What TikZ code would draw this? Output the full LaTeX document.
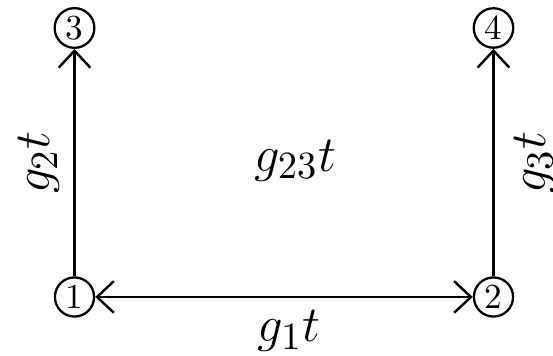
\documentclass[tikz,border=0pt]{standalone}
\usepackage{tikz}
\usetikzlibrary{positioning,arrows.meta,calc}
\tikzset{
  ratetip/.tip={Straight Barb[length=4.8pt,width=9pt,line width=0.7pt]},
  statenode/.style={
    draw,
    circle,
    line width=0.65pt,
    font=\normalsize,
    inner sep=1pt,
    minimum size=3.9mm
  },
  ratearrow/.style={
    line width=0.65pt,
    -ratetip
  },
  ratelabel/.style={
    font=\fontsize{15.8}{19}\selectfont,
    inner sep=2pt
  }
}

\begin{document}
\begin{tikzpicture}[
    on grid,
    node distance=2.69cm and 4.19cm
    ]
    \useasboundingbox (-0.745,-0.59) rectangle (4.785,2.97);

    \node[statenode] (one) at (0,0) {1};
    \node[statenode, right=of one] (two) {2};
    \node[statenode, above=of one] (three) {3};
    \node[statenode, above=of two] (four) {4};

    \node[ratelabel] (gtt) at ($(one)!0.5!(four)+(0.11,0.02)$) {$g_{23}t$};

    \draw[ratearrow] (one) -- node[ratelabel, midway, sloped, above=2pt]{$g_2t$} (three);
    \draw[ratearrow] (two) -- node[ratelabel, midway, sloped, below=3.5pt]{$g_3t$} (four);
    \draw[ratearrow, ratetip-ratetip] (one) -- node[ratelabel, midway, below=1.5pt, xshift=0.05cm]{$g_1t$} (two);

\end{tikzpicture}
\end{document}
